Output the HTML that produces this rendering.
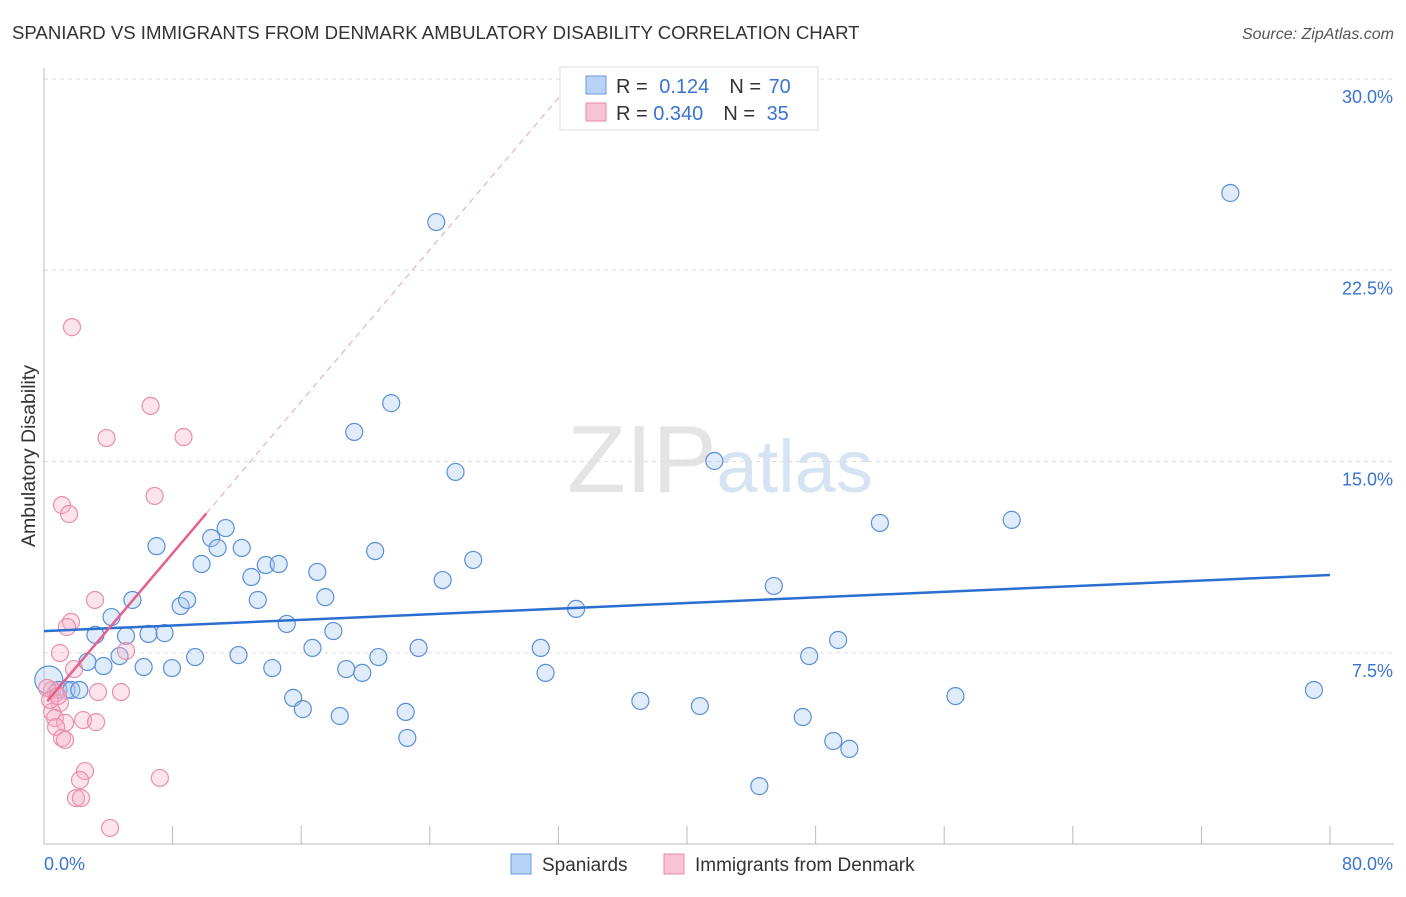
<!DOCTYPE html>
<html><head><meta charset="utf-8"><style>
body{margin:0;background:#fff;font-family:"Liberation Sans",sans-serif}
svg text{font-family:"Liberation Sans",sans-serif}
</style></head><body>
<svg id="chart" width="1406" height="892" xmlns="http://www.w3.org/2000/svg">
<text x="12" y="39" font-size="18.6" fill="#333">SPANIARD VS IMMIGRANTS FROM DENMARK AMBULATORY DISABILITY CORRELATION CHART</text>
<text x="1394" y="39" font-size="16" fill="#555" font-style="italic" text-anchor="end">Source: ZipAtlas.com</text>
<text x="720" y="492" font-size="96" fill="#e4e4e4" text-anchor="middle" font-family="Liberation Serif">ZIP<tspan fill="#d6e3f3" font-family="Liberation Sans" font-size="74">atlas</tspan></text>
<g id="grid"></g>
<g id="axes"></g>
<g id="pts"></g>
<g id="lines"></g>
<text transform="translate(35,456) rotate(-90)" font-size="19.5" fill="#333" text-anchor="middle">Ambulatory Disability</text>
<g>
<rect x="560" y="67" width="258" height="63" fill="#fff" stroke="#ddd"/>
<rect x="586" y="76" width="20" height="18" fill="#b8d2f5" stroke="#6a9ad9"/>
<rect x="586" y="103" width="20" height="18" fill="#f8c4d4" stroke="#e88aa8"/>
<text x="616" y="93" font-size="20" fill="#333">R = <tspan fill="#3a74d0" dx="6">0.124</tspan><tspan dx="20">N = </tspan><tspan fill="#3a74d0" dx="2">70</tspan></text>
<text x="616" y="120" font-size="20" fill="#333">R = <tspan fill="#3a74d0">0.340</tspan><tspan dx="20">N = </tspan><tspan fill="#3a74d0" dx="6">35</tspan></text>
</g>
<g>
<rect x="511" y="854" width="20" height="20" fill="#b8d2f5" stroke="#6a9ad9"/>
<text x="542" y="871" font-size="19" fill="#333">Spaniards</text>
<rect x="664" y="854" width="20" height="20" fill="#f8c4d4" stroke="#e88aa8"/>
<text x="695" y="871" font-size="19" fill="#333">Immigrants from Denmark</text>
</g>
</svg>
<script>
const blueX=[0.3,0.9,1.4,1.7,2.2,2.7,3.2,3.7,4.2,4.7,5.1,5.5,6.2,6.5,7.0,7.5,7.96,8.5,8.9,9.4,9.8,10.4,10.8,11.3,12.1,12.3,12.9,13.3,13.8,14.2,14.6,15.1,15.5,16.1,16.7,17.0,17.5,18.0,18.4,18.8,19.3,19.8,20.6,20.8,21.6,22.5,22.6,23.3,24.4,24.8,25.6,26.7,30.9,31.2,33.1,37.1,40.8,41.7,44.5,45.4,47.2,47.6,49.1,49.4,50.1,52.0,56.7,60.2,73.8,79.0];
const blueY=[6.43,6.04,6.04,6.04,6.04,7.14,8.20,6.98,8.90,7.37,8.16,9.57,6.94,8.24,11.68,8.27,6.90,9.33,9.57,7.33,10.98,12.00,11.61,12.39,7.41,11.61,10.47,9.57,10.94,6.90,10.98,8.63,5.73,5.29,7.69,10.67,9.68,8.35,5.02,6.86,16.16,6.71,11.49,7.33,17.29,5.18,4.16,7.69,24.39,10.35,14.59,11.14,7.69,6.71,9.22,5.61,5.41,15.02,2.27,10.12,4.98,7.37,4.04,8.00,3.73,12.59,5.80,12.71,25.53,6.04];
const pinkX=[1.74,1.12,1.56,3.89,6.63,8.68,6.88,3.17,1.68,1.43,0.99,5.10,1.87,0.50,0.75,3.36,4.79,0.99,0.50,0.68,2.43,3.24,1.31,0.75,1.12,1.31,2.55,2.24,7.21,1.99,2.30,4.11,0.19,0.37,0.87];
const pinkY=[20.27,13.29,12.94,15.92,17.18,15.96,13.65,9.57,8.71,8.51,7.49,7.57,6.86,6.04,5.92,5.96,5.96,5.53,5.18,4.94,4.86,4.78,4.75,4.59,4.16,4.08,2.86,2.51,2.59,1.80,1.80,0.63,6.12,5.65,5.80];
const yTicks=[7.5,15.0,22.5,30.0];
const blueLine=[8.35,10.55];
const pinkLine=[5.45,0.744];
const NS="http://www.w3.org/2000/svg";
const sx=v=>44+v/80*1286, sy=v=>844-v*25.5;
function mk(t,a,p){const e=document.createElementNS(NS,t);for(const k in a)e.setAttribute(k,a[k]);document.getElementById(p).appendChild(e);return e;}
yTicks.forEach(t=>{
 const l=mk('line',{x1:44,x2:1394,y1:sy(t),y2:sy(t),stroke:'#ddd','stroke-dasharray':'4,4'},'grid');
 
 
 const tx=mk('text',{x:1393,y:sy(t)+24,'font-size':18,fill:'#3a74d0','text-anchor':'end'},'grid');
 tx.textContent=t.toFixed(1)+'%';
 
 
});
let ax=mk('line',{x1:44,x2:44,y1:68,y2:844,stroke:'#bbb'},'axes');


ax=mk('line',{x1:44,x2:1394,y1:844,y2:844,stroke:'#bbb'},'axes');


for(let i=1;i<=10;i++){const t=mk('line',{x1:sx(i*8),x2:sx(i*8),y1:826,y2:844,stroke:'#bbb'},'axes');
 
 }
[['0.0%',44,'start'],['80.0%',1393,'end']].forEach(([s,x,a])=>{const t=mk('text',{x:x,y:870,'font-size':18,fill:'#3a74d0','text-anchor':a},'axes');t.textContent=s;
 
 });
blueX.forEach((x,i)=>{const c=mk('circle',{cx:sx(x),cy:sy(blueY[i]),r:i==0?14:8.5,fill:'rgba(170,200,240,0.35)',stroke:'#5a8fd8','stroke-width':1.2},'pts');
 
 });
pinkX.forEach((x,i)=>{const c=mk('circle',{cx:sx(x),cy:sy(pinkY[i]),r:8.5,fill:'rgba(245,175,200,0.35)',stroke:'#e890ab','stroke-width':1.2},'pts');
 
 });
let l=mk('line',{x1:sx(0),y1:sy(blueLine[0]),x2:sx(80),y2:sy(blueLine[1]),stroke:'#2a6fd0','stroke-width':2.5},'lines');


const pe=(30-pinkLine[0])/pinkLine[1];
l=mk('line',{x1:sx(10.1),y1:sy(pinkLine[0]+pinkLine[1]*10.1),x2:sx(pe),y2:sy(30),stroke:'#e8a0b8','stroke-width':1,'stroke-dasharray':'6,5'},'lines');


l=mk('line',{x1:sx(0.2),y1:sy(pinkLine[0]+pinkLine[1]*0.2),x2:sx(10.1),y2:sy(pinkLine[0]+pinkLine[1]*10.1),stroke:'#e5608c','stroke-width':2.5},'lines');


</script>
</body></html>
